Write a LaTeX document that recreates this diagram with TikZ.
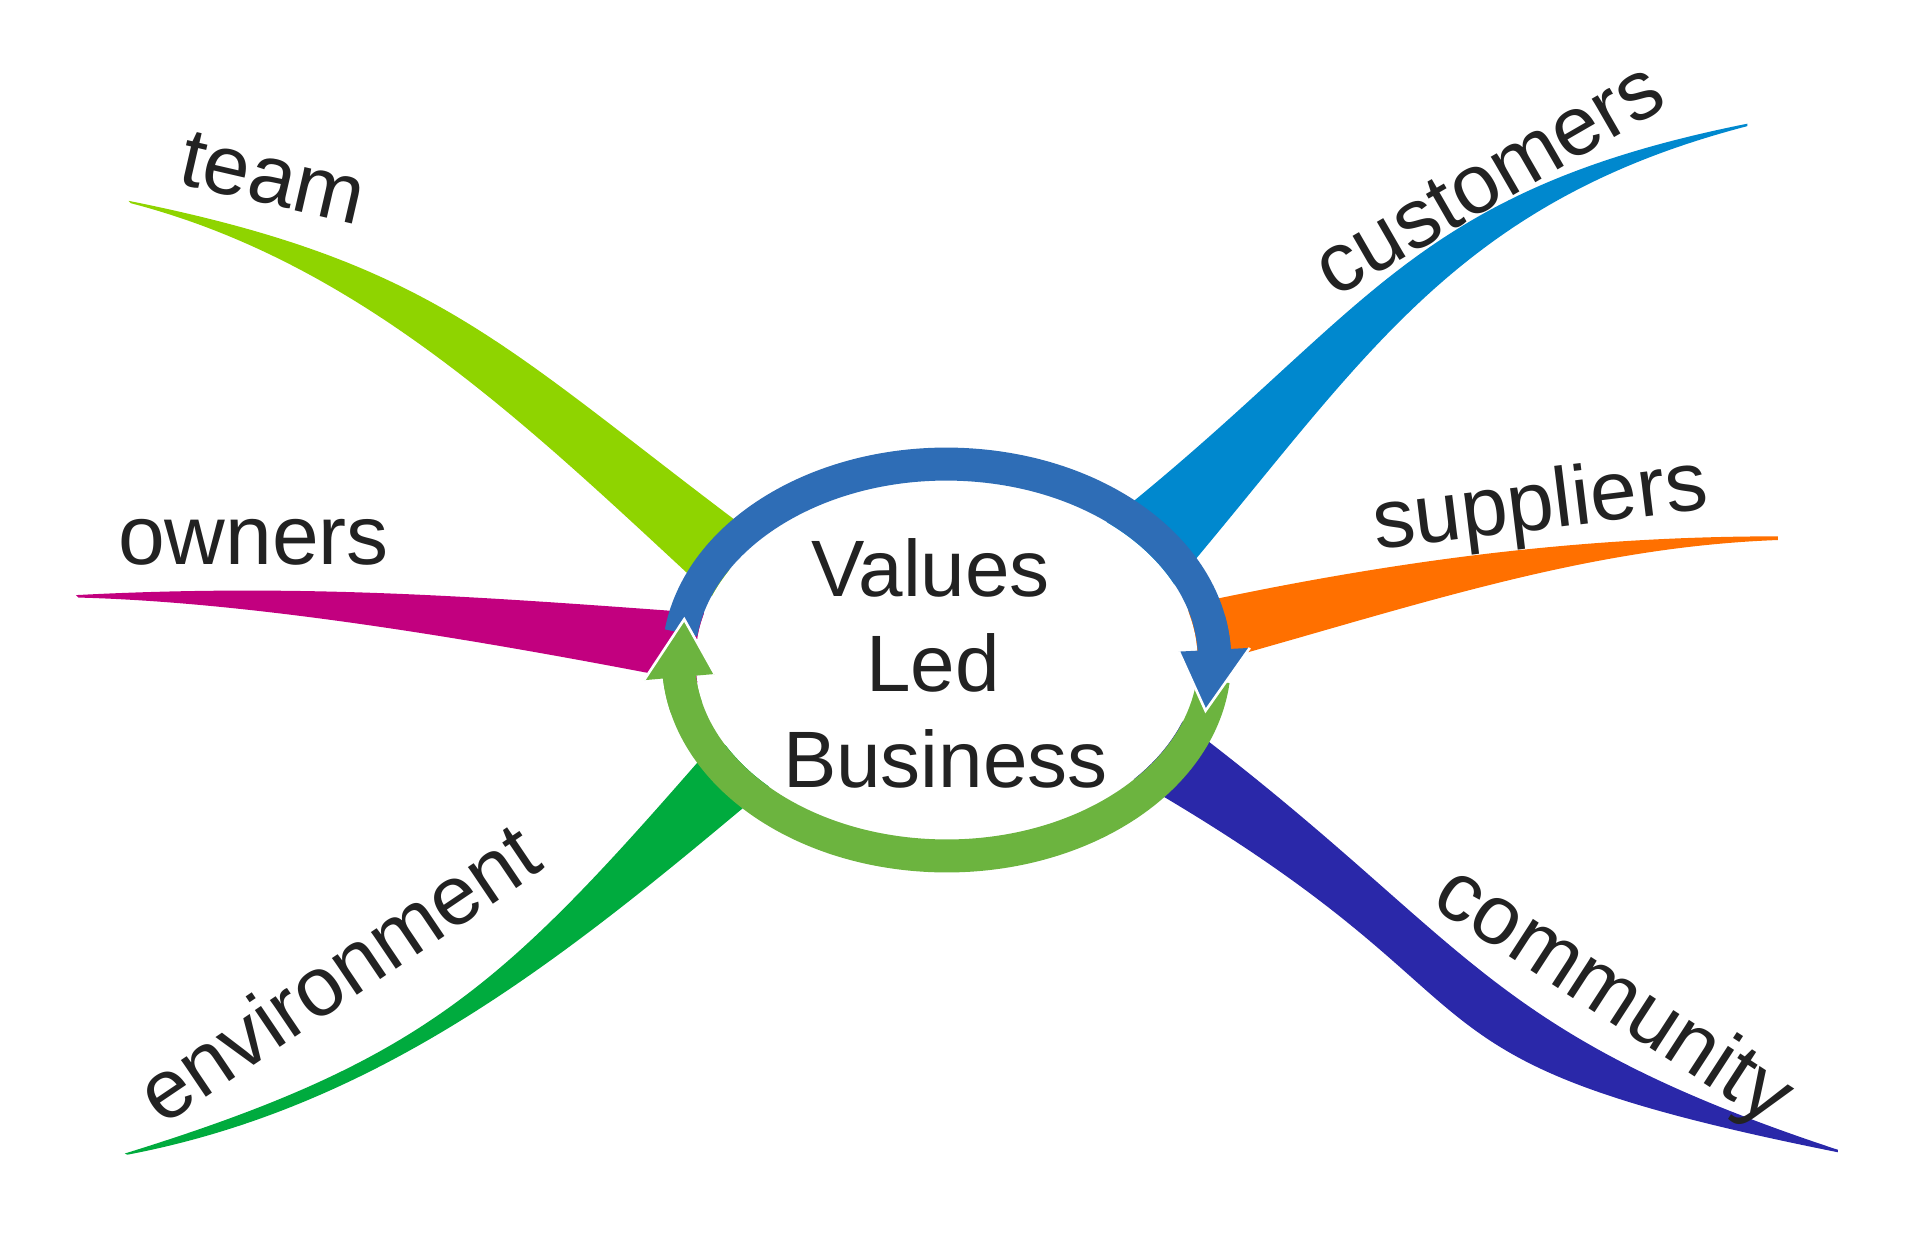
\documentclass[tikz,border=0pt]{standalone}
\usepackage{fontspec}
\setmainfont{Liberation Sans}
\definecolor{cteam}{HTML}{8FD400}
\definecolor{cowners}{HTML}{C2007F}
\definecolor{cenv}{HTML}{00AB3E}
\definecolor{ccust}{HTML}{0088CE}
\definecolor{csupp}{HTML}{FF7000}
\definecolor{ccomm}{HTML}{2A28A9}
\definecolor{ringblue}{HTML}{2E6DB6}
\definecolor{ringgreen}{HTML}{6CB43F}
\definecolor{ink}{HTML}{222222}
\begin{document}
\begin{tikzpicture}[x=0.61225pt, y=-0.61225pt,
  lbl/.style={font=\fontsize{42}{50}\selectfont, text=ink, inner sep=0pt, text height=31pt, text depth=10pt},
  ctext/.style={font=\fontsize{40}{48}\selectfont, text=ink, inner sep=0pt},
  ringline/.style={line width=16.5pt, line cap=butt},
  headedge/.style={draw=white, line width=1.3pt, line join=miter}]
\useasboundingbox (0,0) rectangle (1568,1013);
% branches
\fill[cteam] (105,164) .. controls (355,214) and (410,282) .. (610,432) -- (585,490) .. controls (440.3,356.9) and (301,216.4) .. (107,166) -- cycle;
\fill[cowners] (62,486) .. controls (250,476) and (400,488) .. (578,501) -- (578,559) .. controls (420,528) and (220,492) .. (64,488) -- cycle;
\fill[cenv] (102,942) .. controls (350.5,865) and (412.5,803.4) .. (585,605) -- (640,632) .. controls (476.5,769.3) and (320.8,901.8) .. (104,943) -- cycle;
\fill[ccust] (900,430) .. controls (1117.8,257.9) and (1146.5,157.1) .. (1427,101) -- (1427,103) .. controls (1183.5,166.3) and (1110.5,300.1) .. (955,482) -- cycle;
\fill[csupp] (970,494) .. controls (1150,455) and (1300,438) .. (1452,438) -- (1452,441) .. controls (1290,447) and (1150,497) .. (975,545) -- cycle;
\fill[ccomm] (960,585) .. controls (1202.6,767) and (1205.1,841.4) .. (1501,939) -- (1501,941) .. controls (1106.8,862.2) and (1258,825.7) .. (920,633) -- cycle;
% interior
\fill[white] (773,539) ellipse [x radius=205, y radius=146];
% ring bodies
\draw[ringline, ringblue] ({773+219*cos(-172)},{539+160*sin(-172)}) arc[start angle=-172, end angle=-2, x radius=219, y radius=160];
\draw[ringline, ringgreen] ({773+219*cos(6)},{539+160*sin(6)}) arc[start angle=6, end angle=176, x radius=219, y radius=160];
% blue head
\coordinate (bho) at ({773+248*cos(-3)},{539+189*sin(-3)});
\coordinate (bhi) at ({773+190*cos(-3)},{539+131*sin(-3)});
\coordinate (bht) at ({773+219*cos(15)},{539+160*sin(15)});
\fill[ringblue] (bho) -- (bht) -- (bhi) -- cycle;
\draw[headedge] (bho) -- (bht) -- (bhi);
% green head
\coordinate (gho) at ({773+248*cos(175)},{539+189*sin(175)});
\coordinate (ghi) at ({773+190*cos(175)},{539+131*sin(175)});
\coordinate (ght) at ({773+219*cos(192)},{539+160*sin(192)});
\fill[ringgreen] (gho) -- (ght) -- (ghi) -- cycle;
\draw[headedge] (gho) -- (ght) -- (ghi);
% re-cover seams
\draw[ringline, ringblue] ({773+219*cos(-12)},{539+160*sin(-12)}) arc[start angle=-12, end angle=-2.5, x radius=219, y radius=160];
\draw[ringline, ringgreen] ({773+219*cos(166)},{539+160*sin(166)}) arc[start angle=166, end angle=175.5, x radius=219, y radius=160];
% center text
\node[ctext, anchor=base] (v1) at (760,487) {Values};
\node[ctext, anchor=base] (v2) at (762,565) {Led};
\node[ctext, anchor=base] (v3) at (772,643) {Business};
% labels
\node[lbl, rotate=-13] (team) at (222,150) {team};
\node[lbl] (owners) at (207,444) {owners};
\node[lbl, rotate=30] (customers) at (1218,150) {customers};
\node[lbl, rotate=7] (suppliers) at (1258,415) {suppliers};
\node[lbl, rotate=34] (environment) at (280,800) {environment};
\node[lbl, rotate=-33] (community) at (1316,815) {community};
\end{tikzpicture}
\end{document}
